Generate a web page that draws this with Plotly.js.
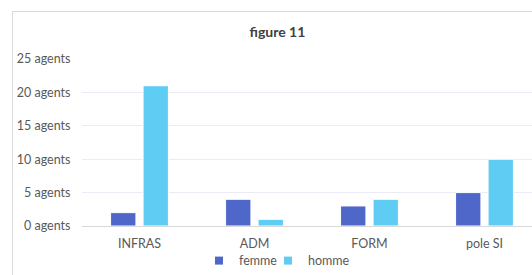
<!DOCTYPE html>
<html><head><meta charset="utf-8">
<script src="https://cdn.plot.ly/plotly-3.0.1.min.js"></script>
<style>
html,body{margin:0;padding:0;width:532px;height:275px;overflow:hidden;background:#fff;}
#frame{position:absolute;left:12px;top:11px;width:560px;height:300px;border:1px solid #d9d9d9;box-sizing:border-box;}
#chart{position:absolute;left:0;top:0;width:545px;height:275px;}
</style></head>
<body>
<div id="frame"></div>
<div id="chart"></div>
<script>
const categories = ["INFRAS", "ADM", "FORM", "pole SI"];
const femme = [2, 4, 3, 5];
const homme = [21, 1, 4, 10];
const yTickVals = [0, 5, 10, 15, 20, 25];
const yTickText = ["0 agents", "5 agents", "10 agents", "15 agents", "20 agents", "25 agents"];
const seriesNames = ["femme", "homme"];
const colors = ["#4E67C8", "#5ECCF3"];

const font = "Lato, 'Liberation Sans', sans-serif";
const data = [
  {type:"bar", x:categories, y:femme, name:seriesNames[0], showlegend:false,
   marker:{color:colors[0], line:{color:"#ffffff", width:1}}, hoverinfo:"none"},
  {type:"bar", x:categories, y:homme, name:seriesNames[1], showlegend:false,
   marker:{color:colors[1], line:{color:"#ffffff", width:1}}, hoverinfo:"none"},
  {type:"scatter", mode:"markers", x:[null], y:[null], name:seriesNames[0], legend:"legend",
   marker:{symbol:"square", size:8, color:colors[0]}},
  {type:"scatter", mode:"markers", x:[null], y:[null], name:seriesNames[1], legend:"legend2",
   marker:{symbol:"square", size:8, color:colors[1]}}
];
const legendBase = {orientation:"h", xref:"container", yref:"container",
  xanchor:"left", y:0.051, yanchor:"middle",
  font:{family:font, size:12.5, color:"#595959"}, itemwidth:30,
  bgcolor:"rgba(0,0,0,0)"};
const layout = {
  width:545, height:275,
  margin:{l:82, r:3, t:59, b:49, autoexpand:false},
  paper_bgcolor:"rgba(0,0,0,0)", plot_bgcolor:"rgba(0,0,0,0)",
  font:{family:font, size:12.5, color:"#595959"},
  title:{text:"<b>figure 11</b>", x:0.509, xanchor:"center", y:0.883, yanchor:"middle",
         font:{family:font, size:14, color:"#404040"}},
  barmode:"group", bargap:0.435, bargroupgap:0.22,
  xaxis:{type:"category", categoryorder:"array", categoryarray:categories,
         showgrid:false, showline:false, zeroline:false,
         ticks:"outside", ticklen:6, tickcolor:"rgba(0,0,0,0)",
         tickfont:{family:font, size:12.5, color:"#595959"}, fixedrange:true},
  yaxis:{range:[0,25], tickvals:yTickVals, ticktext:yTickText,
         showgrid:true, gridcolor:"#E9ECF5", gridwidth:1,
         zeroline:true, zerolinecolor:"#D9D9D9", zerolinewidth:1,
         showline:false, ticks:"outside", ticklen:8, tickcolor:"rgba(0,0,0,0)",
         tickfont:{family:font, size:12.5, color:"#595959"}, fixedrange:true},
  legend:Object.assign({}, legendBase, {x:199/545}),
  legend2:Object.assign({}, legendBase, {x:268/545}),
  showlegend:true
};
Plotly.newPlot("chart", data, layout, {displayModeBar:false, staticPlot:true});
</script>
</body></html>
